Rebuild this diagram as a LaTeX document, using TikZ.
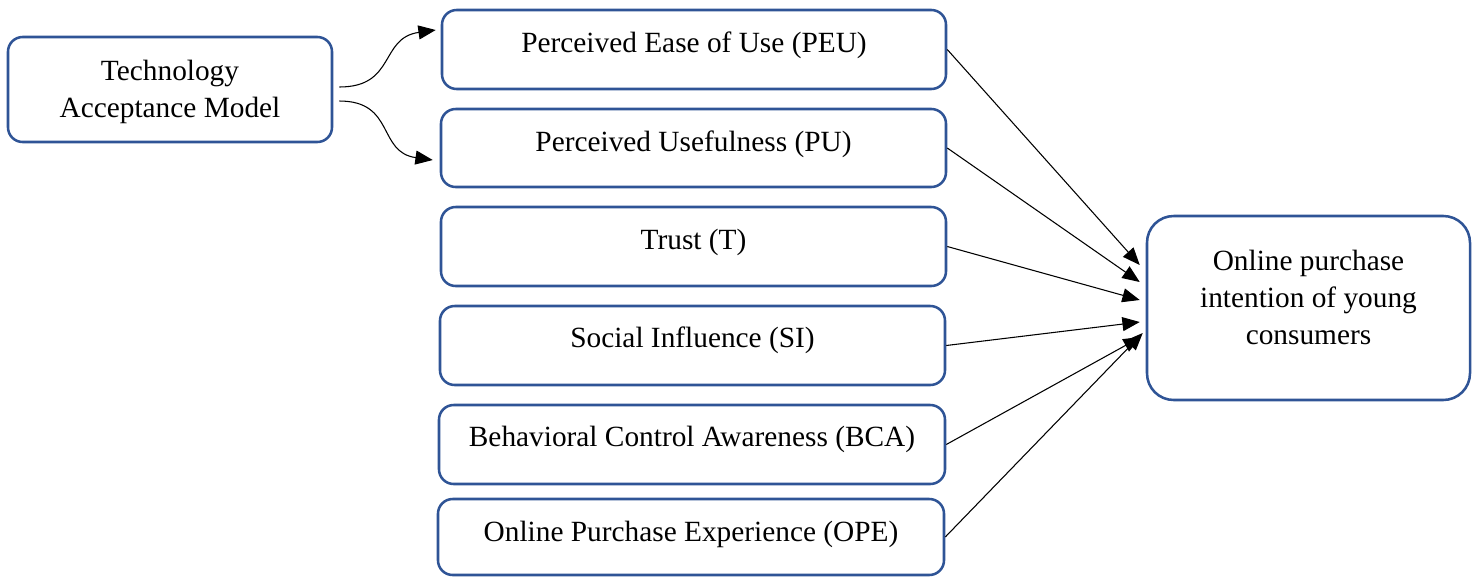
\documentclass[tikz,border=0pt]{standalone}
\usepackage{fontspec}
\setmainfont{Liberation Serif}
\usetikzlibrary{arrows.meta,calc}
\definecolor{boxblue}{HTML}{2F5496}
\begin{document}
\begin{tikzpicture}[x=0.75pt,y=-0.75pt,
  box/.style={draw=boxblue, line width=1.9pt, rounded corners=11pt, fill=white, inner sep=0pt},
  bigbox/.style={box, rounded corners=20pt},
  txt/.style={font=\fontsize{22}{27.75}\selectfont, align=center, inner sep=0pt},
  link/.style={line width=0.8pt, -{Triangle[length=13pt,width=10.5pt]}}]
\useasboundingbox (0,0) rectangle (1478,576);

% source model
\node[box, minimum width=243pt, minimum height=78.75pt] (tam) at (170,89.5) {};
\node[txt] (tamtxt) at (170,92) {Technology\\Acceptance Model};

% constructs
\node[box, minimum width=378pt, minimum height=59.25pt] (peu) at (694,49.5) {};
\node[box, minimum width=378.75pt, minimum height=58.5pt] (pu) at (693.5,148) {};
\node[box, minimum width=378.75pt, minimum height=59.25pt] (tr) at (693.5,246.5) {};
\node[box, minimum width=378.75pt, minimum height=59.25pt] (si) at (692.5,345.5) {};
\node[box, minimum width=379.5pt, minimum height=59.25pt] (bca) at (692,444.5) {};
\node[box, minimum width=379.5pt, minimum height=57pt] (ope) at (691,537) {};

\node[txt] at ($(peu.north)+(0,37)$) {Perceived Ease of Use (PEU)};
\node[txt] at ($(pu.north)+(0,37)$) {Perceived Usefulness (PU)};
\node[txt] at ($(tr.north)+(0,37)$) {Trust (T)};
\node[txt] at ($(si.north)+(0,36)$) {Social Influence (SI)};
\node[txt] at ($(bca.north)+(0,36)$) {Behavioral Control Awareness (BCA)};
\node[txt] at ($(ope.north)+(0,37)$) {Online Purchase Experience (OPE)};

% outcome
\node[bigbox, minimum width=242.25pt, minimum height=138pt] (out) at (1308.5,308) {};
\node[txt] at (1308.5,297) {Online purchase\\intention of young\\consumers};

% TAM feeds PEU and PU
\draw[link] ($(tam.east)+(6,-2.5)$) to[out=0,in=188,looseness=1.3] ($(peu.west)+(-5,-19.5)$);
\draw[link] ($(tam.east)+(6,11.5)$) to[out=0,in=172,looseness=1.3] ($(pu.west)+(-7,12)$);

% constructs feed purchase intention
\draw[link] (peu.east) -- ($(out.west)+(-6,-43)$);
\draw[link] (pu.east) -- ($(out.west)+(-6,-26)$);
\draw[link] (tr.east) -- ($(out.west)+(-6,-8)$);
\draw[link] (si.east) -- ($(out.west)+(-6,14)$);
\draw[link] (bca.east) -- ($(out.west)+(-5,29)$);
\draw[link] (ope.east) -- ($(out.west)+(-3,25)$);
\end{tikzpicture}
\end{document}
